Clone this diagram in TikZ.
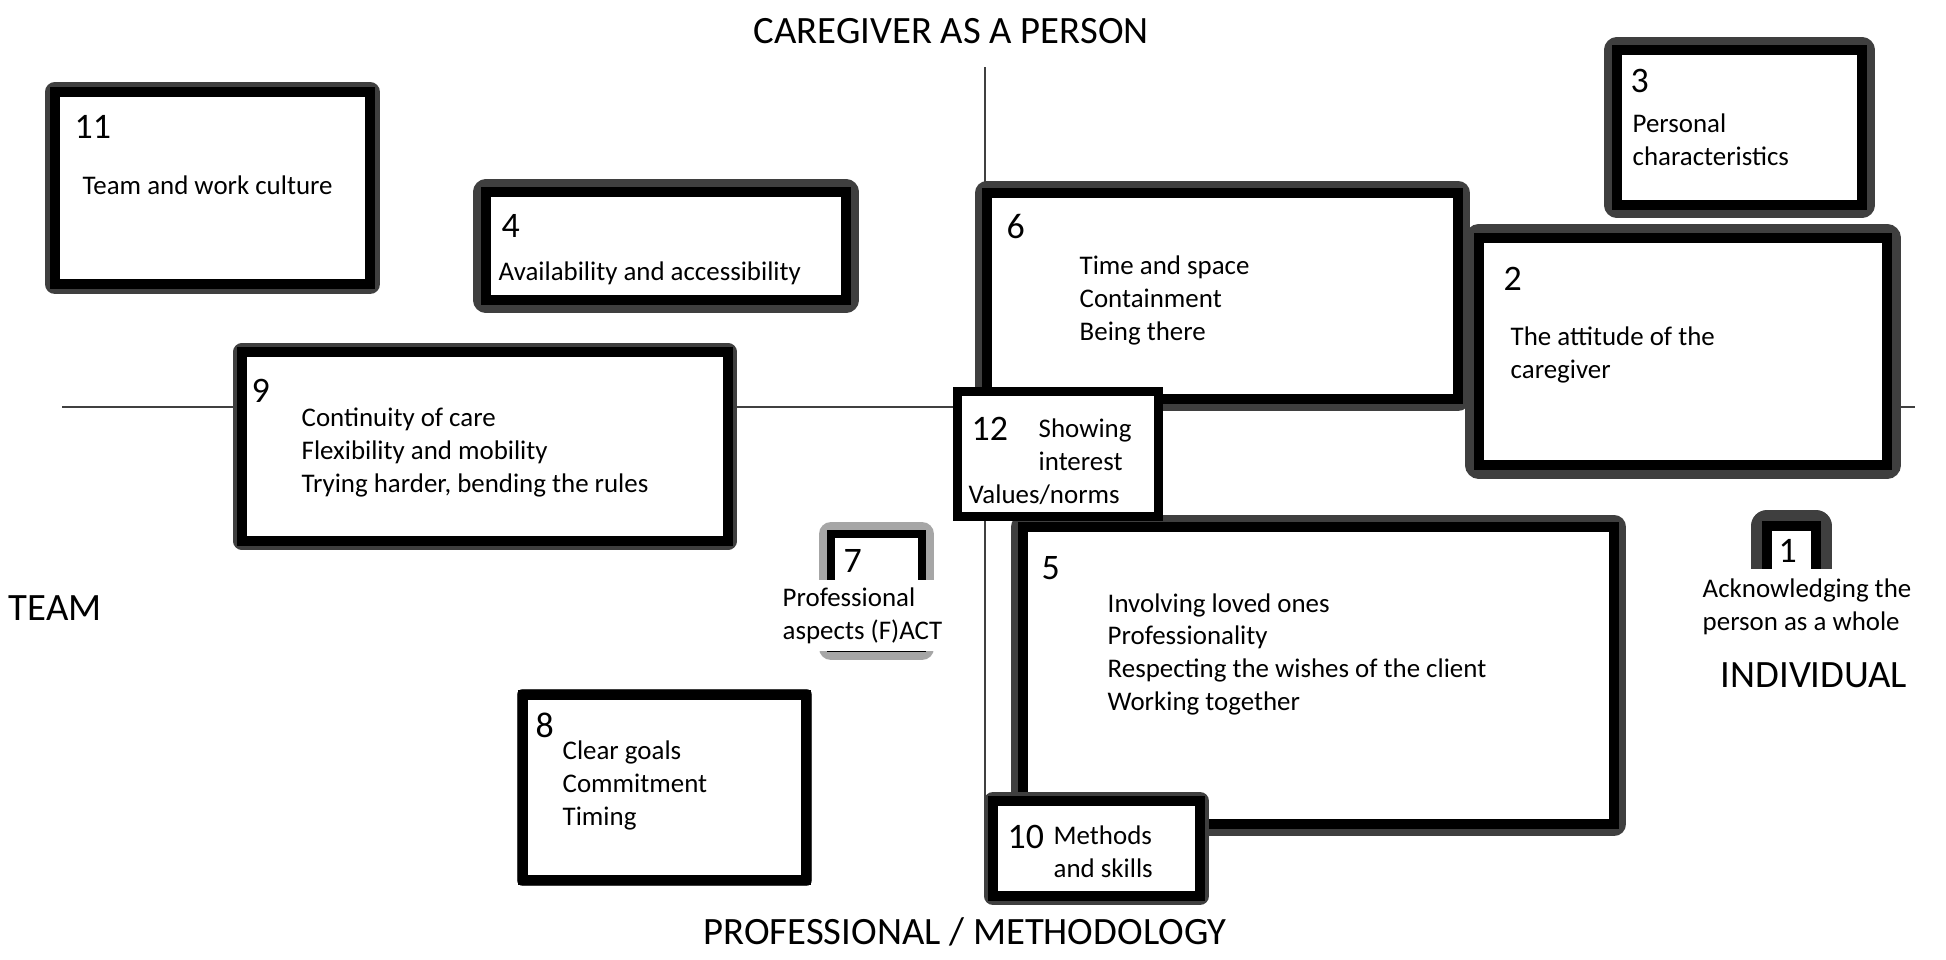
\documentclass[tikz,border=0pt]{standalone}
\usepackage{fontspec}
\setmainfont{Carlito}
\usetikzlibrary{positioning}
\definecolor{BoxRim}{HTML}{3F3F3F}
\definecolor{FaintRim}{HTML}{A6A6A6}
\definecolor{AxisCol}{HTML}{404040}

\begin{document}
\begin{tikzpicture}[x=0.01cm, y=-0.01cm]
  \tikzset{catbox/.style={draw=black, line width=1mm, fill=white, inner sep=0pt,
               preaction={draw=BoxRim, line width=#1, line join=round}},
           catbox/.default=2.4mm}
  \tikzstyle{plainbox}=[draw=black, line width=0.9mm, fill=white, inner sep=0pt]
  \tikzstyle{faintbox}=[draw=black, line width=0.8mm, fill=white, inner sep=0pt,
               preaction={draw=FaintRim, line width=2.4mm, line join=round}]
  \tikzstyle{numlab}=[anchor=base west, inner sep=0pt, font=\fontsize{10.2}{12}\selectfont]
  % texts are placed at the baseline of their last line
  \tikzstyle{itemtxt}=[anchor=base west, inner sep=0pt, align=left,
               font=\fontsize{7.65}{9.25}\selectfont]
  \tikzstyle{axislab}=[anchor=base west, inner sep=0pt, font=\fontsize{11}{13}\selectfont]
  \useasboundingbox (0,0) rectangle (1946,959);
  % axes
  \coordinate (axW) at (62,407);
  \coordinate (axE) at (1915,407);
  \coordinate (axN) at (985,67);
  \coordinate (axS) at (985,800);
  \draw[AxisCol, line width=0.2mm] (axW) -- (axE);
  \draw[AxisCol, line width=0.2mm] (axN) -- (axS);
  % axis labels
  \node[axislab] (lblN) at (753,43) {CAREGIVER AS A PERSON};
  \node[axislab] (lblW) at (8,620) {TEAM};
  \node[axislab] (lblE) at (1720,687) {INDIVIDUAL};
  \node[axislab] (lblS) at (703,944) {PROFESSIONAL / METHODOLOGY};
  % category boxes, back to front
  \node[catbox=2.0mm, minimum width=3.15cm, minimum height=1.92cm] (box11) at (212.5,188) {};
  \node[catbox=2.5mm, minimum width=3.60cm, minimum height=1.08cm] (box4) at (666,246) {};
  \node[catbox=1.7mm, minimum width=4.86cm, minimum height=1.89cm] (box9) at (485,446.5) {};
  \node[catbox=2.4mm, minimum width=4.71cm, minimum height=2.06cm] (box6) at (1222.5,296) {};
  \node[catbox=2.5mm, minimum width=2.45cm, minimum height=1.55cm] (box3) at (1739.5,127.5) {};
  \node[catbox=2.7mm, minimum width=4.08cm, minimum height=2.27cm] (box2) at (1683,351.5) {};
  \node[catbox=2.4mm, minimum width=5.91cm, minimum height=2.97cm] (box5) at (1318.5,675.5) {};
  \node[plainbox, minimum width=2.00cm, minimum height=1.24cm] (box12) at (1058,454) {};
  \node[catbox=1.8mm, minimum width=2.07cm, minimum height=0.95cm] (box10) at (1096.5,848.5) {};
  \node[faintbox, minimum width=0.91cm, minimum height=1.14cm] (box7) at (876.5,591) {};
  \node[catbox=1.2mm, minimum width=2.83cm, minimum height=1.85cm] (box8) at (664.5,787.5) {};
  \node[catbox=3.2mm, minimum width=0.49cm, minimum height=0.84cm] (box1) at (1791.5,568) {};
  % numbers
  \node[numlab] (num11) at (74,138) {11};
  \node[numlab] (num4) at (501,237) {4};
  \node[numlab] (num9) at (251,402) {9};
  \node[numlab] (num6) at (1006,238) {6};
  \node[numlab] (num3) at (1630,92) {3};
  \node[numlab] (num2) at (1503,290) {2};
  \node[numlab] (num12) at (971,440) {12};
  \node[numlab] (num7) at (843,572) {7};
  \node[numlab] (num5) at (1041,579) {5};
  \node[numlab] (num10) at (1007,848) {10};
  \node[numlab] (num8) at (535,737) {8};
  % texts
  \node[itemtxt] (txt11) at (82,194) {Team and work culture};
  \node[itemtxt] (txt4) at (498,280) {Availability and accessibility};
  \node[itemtxt] (txt9) at (301,492) {Continuity of care\\Flexibility and mobility\\Trying harder, bending the rules};
  \node[itemtxt] (txt6) at (1079,340) {Time and space\\Containment\\Being there};
  \node[itemtxt] (txt3) at (1632,165) {Personal\\characteristics};
  \node[itemtxt] (txt2) at (1510,378) {The attitude of the\\caregiver};
  \node[itemtxt] (txt12) at (1038,470) {Showing\\interest};
  \node[itemtxt] (val12) at (968,503) {Values/norms};
  \node[itemtxt, fill=white, inner ysep=0.8mm] (txt7) at (782,639) {Professional\\aspects (F)ACT};
  \node[itemtxt] (txt5) at (1107,710) {Involving loved ones\\Professionality\\Respecting the wishes of the client\\Working together};
  \node[itemtxt] (txt8) at (562,825) {Clear goals\\Commitment\\Timing};
  \node[itemtxt] (txt10) at (1053,877) {Methods\\and skills};
  \node[itemtxt, fill=white, inner ysep=1mm] (txt1) at (1702,630) {Acknowledging the\\person as a whole};
  \node[numlab] (num1) at (1778,562) {1};
\end{tikzpicture}
\end{document}
